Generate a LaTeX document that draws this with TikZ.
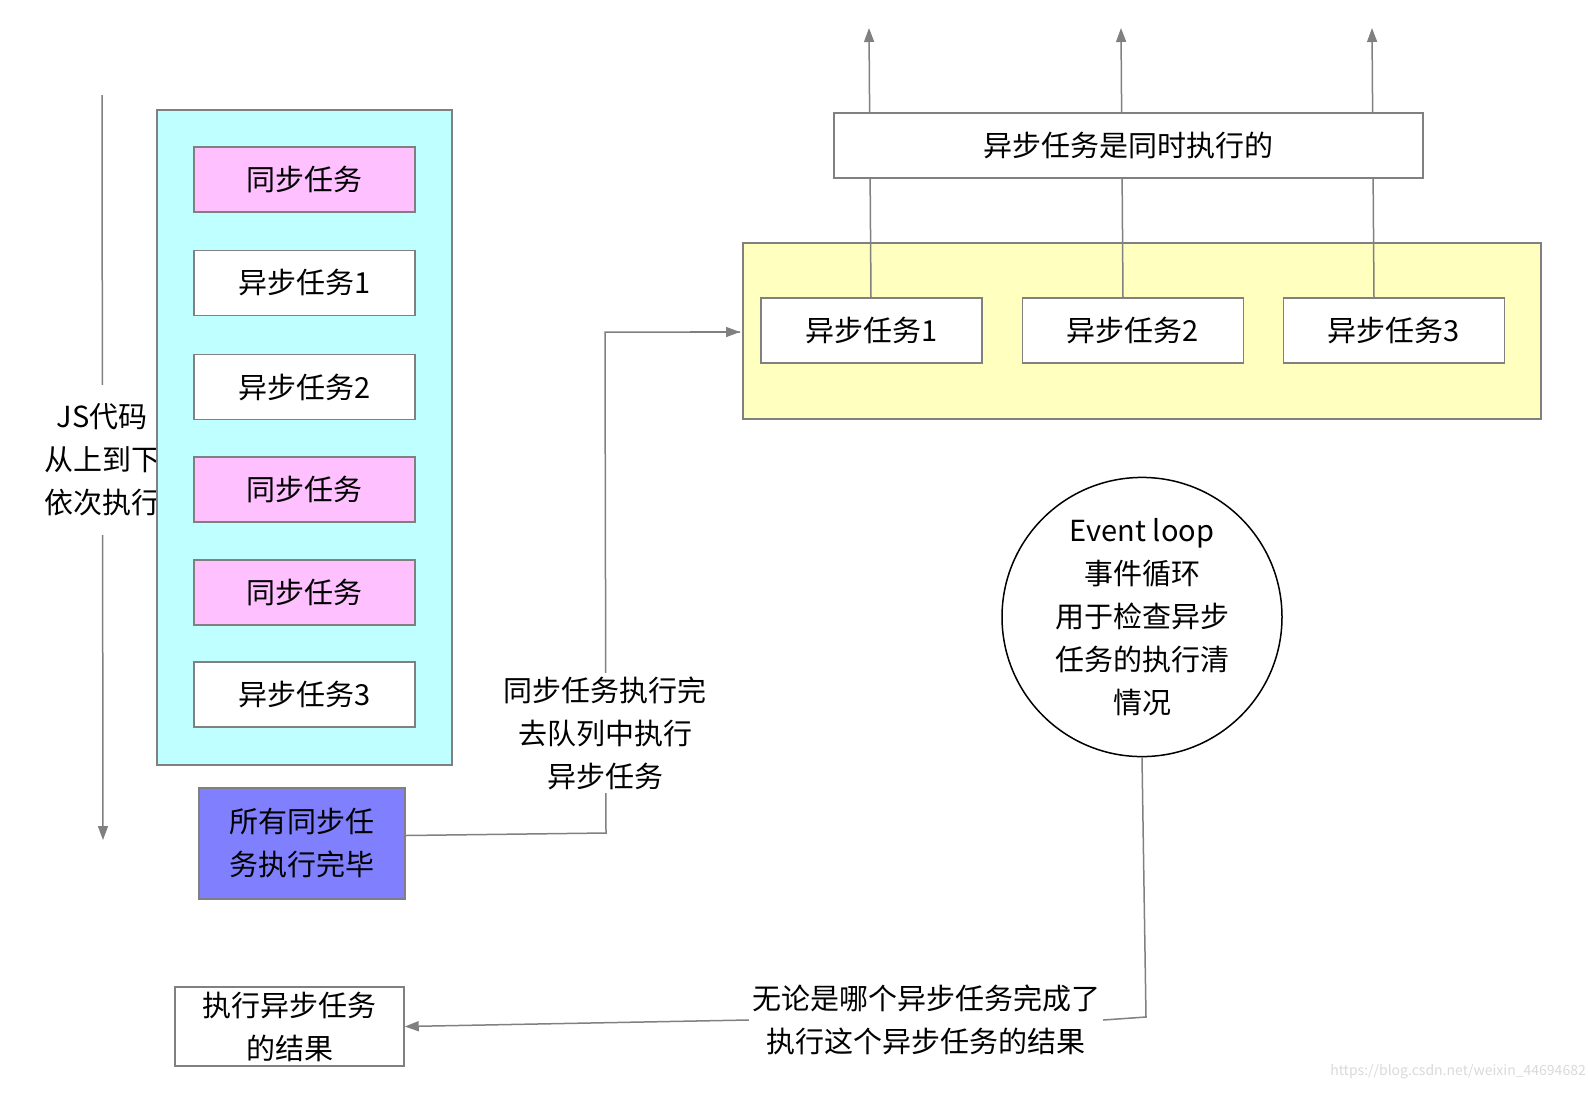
\documentclass[tikz,border=0pt]{standalone}
\usepackage{fontspec}
\setmainfont{Noto Sans CJK SC}
\usetikzlibrary{arrows.meta,shapes.geometric}
\definecolor{ln}{HTML}{808080}
\begin{document}
\begin{tikzpicture}[x=1pt,y=-1pt,
 every node/.style={font=\fontsize{29}{43}\selectfont,align=center,inner sep=0pt},
 bx/.style={draw=ln,line width=1.5pt,fill=white},
 ar/.style={draw=ln,line width=1.5pt,-{Triangle[length=14pt,width=10pt]}},
 cn/.style={draw=ln,line width=1.5pt}]
\useasboundingbox (0,0) rectangle (1588,1104);
% left arrow
\draw[ar] (102,95) -- (103,840);
\node[fill=white,minimum width=145pt,minimum height=150pt] (js) at (102,460) {JS代码\\从上到下\\依次执行};
% cyan stack
\draw[bx,fill={rgb,255:red,192;green,255;blue,255}] (157,110) rectangle (452,765);
\tikzset{sb/.style={bx,minimum width=221pt,minimum height=65pt}}
\node[sb,fill={rgb,255:red,255;green,192;blue,255}] (s1) at (304.5,179.5) {同步任务};
\node[sb] (a1) at (304.5,283) {异步任务1};
\node[sb] (a2) at (304.5,387) {异步任务2};
\node[sb,fill={rgb,255:red,255;green,192;blue,255}] (s2) at (304.5,489.5) {同步任务};
\node[sb,fill={rgb,255:red,255;green,192;blue,255}] (s3) at (304.5,592.5) {同步任务};
\node[sb] (a3) at (304.5,694.5) {异步任务3};
\node[bx,fill={rgb,255:red,128;green,128;blue,255},minimum width=206pt,minimum height=111pt] (done) at (302,843.5) {所有同步任\\务执行完毕};
% yellow
\draw[bx,fill={rgb,255:red,255;green,255;blue,192}] (743,243) rectangle (1541,419);
\coordinate (yl) at (740,332);
\draw[cn] (done.east) ++(0,-8) -- (606,833) -- (605,332) -- (yl);
\draw[ar] (690,332) -- (yl);
\node[fill=white,inner sep=3pt] (lb1) at (605,733) {同步任务执行完\\去队列中执行\\异步任务};
\node[sb] (y1) at (871.5,330.5) {异步任务1};
\node[sb] (y2) at (1133,330.5) {异步任务2};
\node[sb] (y3) at (1394,330.5) {异步任务3};
\coordinate (t1) at (869,28); \coordinate (t2) at (1121,28); \coordinate (t3) at (1372,28);
\draw[ar] (871,298) -- (t1);
\draw[ar] (1123,298) -- (t2);
\draw[ar] (1374,298) -- (t3);
\node[bx,minimum width=589pt,minimum height=65pt] (top) at (1128.5,145.5) {异步任务是同时执行的};
% event loop
\node[draw=black,line width=1.5pt,ellipse,minimum width=280pt,minimum height=264pt] (ev) at (1142,617) {Event loop\\事件循环\\用于检查异步\\任务的执行清\\情况};
\node[fill=white,inner sep=3pt] (lb2) at (926,1020) {无论是哪个异步任务完成了\\执行这个异步任务的结果};
\draw[cn] (ev.south) -- (1146,1017) -- (lb2.east);
\node[bx,minimum width=229pt,minimum height=79pt] (res) at (289.5,1026.5) {执行异步任务\\的结果};
\draw[ar] (lb2.west) -- (res.east);
\node[font=\fontsize{14}{16}\selectfont,text=black!15,anchor=east] (wm) at (1586,1072) {https://blog.csdn.net/weixin\_44694682};
\end{tikzpicture}
\end{document}
